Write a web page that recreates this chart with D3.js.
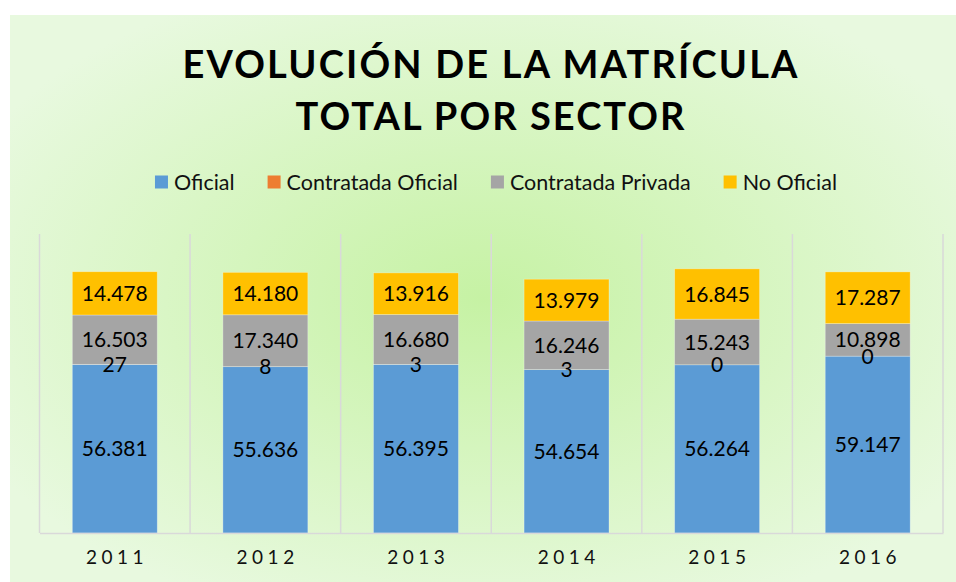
<!DOCTYPE html>
<html lang="es">
<head>
<meta charset="UTF-8">
<title>Evolución de la matrícula</title>
<script src="https://cdn.jsdelivr.net/npm/d3@7"></script>
<style>
    body { margin: 0; background: #fff; }
    svg { display: block; }
</style>
</head>
<body>
<script>
    const years = ["2011", "2012", "2013", "2014", "2015", "2016"];
    const series = ["Oficial", "Contratada Oficial", "Contratada Privada", "No Oficial"];
    const colors = ["#5b9bd5", "#ed7d31", "#a5a5a5", "#ffc000"];
    const oficial = [56381, 55636, 56395, 54654, 56264, 59147];
    const contratadaOficial = [27, 8, 3, 3, 0, 0];
    const contratadaPrivada = [16503, 17340, 16680, 16246, 15243, 10898];
    const noOficial = [14478, 14180, 13916, 13979, 16845, 17287];
    const titleLines = ["EVOLUCIÓN DE LA MATRÍCULA", "TOTAL POR SECTOR"];

    const width = 956, height = 582;
    const font = "Lato, 'Noto Sans', sans-serif";

    const svg = d3.select("body").append("svg")
        .attr("width", width)
        .attr("height", height);

    // background
    const grad = svg.append("defs").append("radialGradient")
        .attr("id", "bg")
        .attr("cx", "50%").attr("cy", "50%").attr("r", "60%");
    grad.append("stop").attr("offset", "0%").attr("stop-color", "#c6f2a4");
    grad.append("stop").attr("offset", "100%").attr("stop-color", "#e8f9df");

    svg.append("rect")
        .attr("x", 10).attr("y", 15)
        .attr("width", width - 10).attr("height", height - 15)
        .attr("fill", "url(#bg)");

    // title
    titleLines.forEach((line, i) => {
        const targetW = i === 0 ? 615 : 389;
        const t = svg.append("text")
            .attr("y", 78 + i * 52)
            .attr("font-family", font)
            .attr("font-weight", 700)
            .attr("font-size", 38)
            .attr("fill", "#000")
            .text(line);
        const w = t.node().getComputedTextLength();
        const ls = (targetW - w) / (line.length - 1);
        t.attr("letter-spacing", ls).attr("x", 490 - targetW / 2);
    });

    // legend
    const legend = svg.append("g").attr("transform", "translate(0,182)");
    let lx = 0;
    series.forEach((s, i) => {
        const g = legend.append("g").attr("transform", `translate(${lx},0)`);
        g.append("rect").attr("x", 0).attr("y", -6.5).attr("width", 13).attr("height", 13).attr("fill", colors[i]);
        const t = g.append("text").attr("x", 19).attr("dy", "0.35em")
            .attr("font-family", font).attr("font-size", 21.5).attr("fill", "#111").text(s);
        lx += 19 + t.node().getComputedTextLength() + 33;
    });
    const legW = lx - 33;
    legend.attr("transform", `translate(${496 - legW / 2},182)`);

    // scales
    const x = d3.scaleBand().domain(years).range([39.5, 943]).paddingInner(0.436).paddingOuter(0.218);
    const y = d3.scaleLinear().domain([0, 100000]).range([533, 234]);

    const table = years.map((yr, i) => ({
        year: yr,
        "Oficial": oficial[i],
        "Contratada Oficial": contratadaOficial[i],
        "Contratada Privada": contratadaPrivada[i],
        "No Oficial": noOficial[i]
    }));
    const stacked = d3.stack().keys(series)(table);

    // vertical gridlines between categories
    const bounds = d3.range(years.length + 1).map(i => x.range()[0] + i * x.step());
    svg.append("g").selectAll("line").data(bounds).enter().append("line")
        .attr("x1", d => d).attr("x2", d => d)
        .attr("y1", y(100000)).attr("y2", y(0))
        .attr("stroke", "#d9d9d9").attr("stroke-width", 1.5);

    // bars
    const layer = svg.append("g").selectAll("g").data(stacked).enter().append("g")
        .attr("fill", (d, i) => colors[i]);
    layer.selectAll("rect").data(d => d).enter().append("rect")
        .attr("x", d => x(d.data.year))
        .attr("width", x.bandwidth())
        .attr("y", d => y(d[1]))
        .attr("height", d => y(d[0]) - y(d[1]))
        .attr("stroke", "rgba(255,255,255,0.35)")
        .attr("stroke-width", 0.8);

    // axis
    const axis = svg.append("g")
        .attr("transform", `translate(0,${y(0)})`)
        .call(d3.axisBottom(x).tickSize(0).tickPadding(18));
    axis.select(".domain").attr("stroke", "#d9d9d9").attr("stroke-width", 1.5);
    axis.selectAll("text")
        .attr("font-family", font).attr("font-size", 19).attr("fill", "#111")
        .attr("letter-spacing", 4.5)
        .attr("dx", 2.25);

    // labels
    const fmt = v => d3.format(",")(v).replace(/,/g, ".");
    svg.append("g").selectAll("g").data(stacked).enter().append("g")
        .selectAll("text").data(d => d).enter().append("text")
        .attr("x", d => x(d.data.year) + x.bandwidth() / 2)
        .attr("y", d => (y(d[0]) + y(d[1])) / 2)
        .attr("dy", "0.36em")
        .attr("text-anchor", "middle")
        .attr("font-family", font).attr("font-size", 21).attr("fill", "#000")
        .text(d => fmt(d[1] - d[0]));
</script>
</body>
</html>
